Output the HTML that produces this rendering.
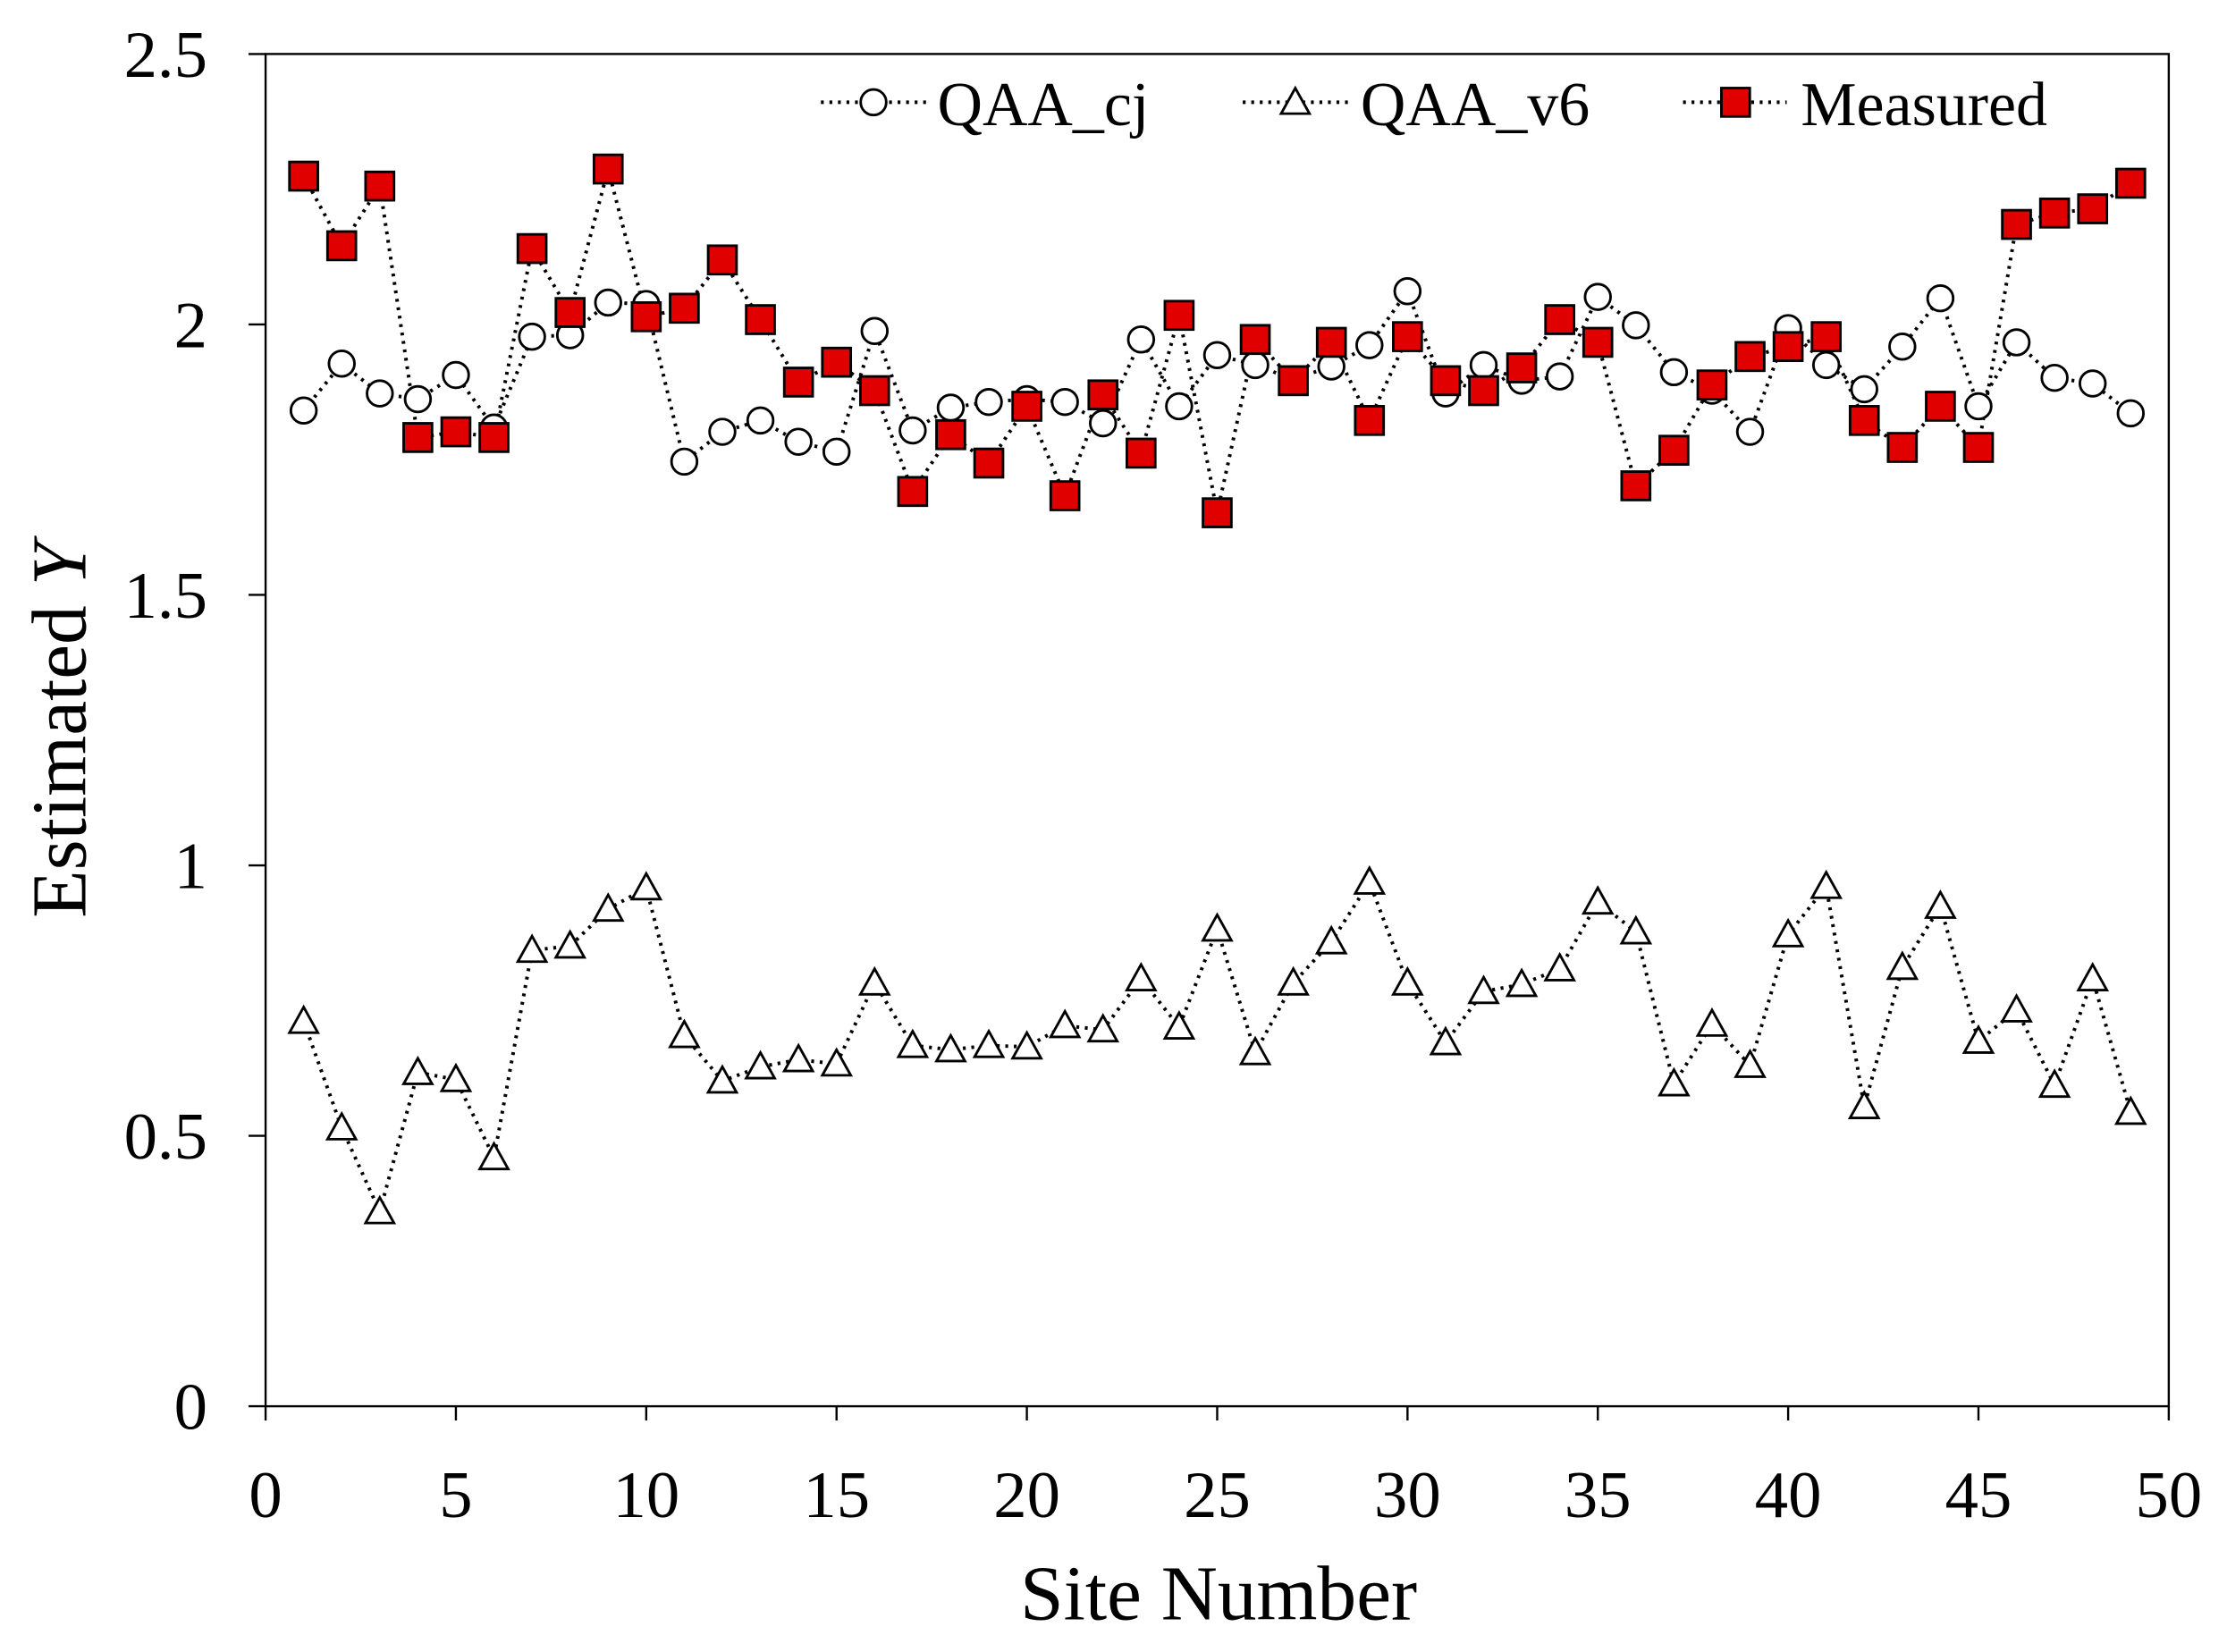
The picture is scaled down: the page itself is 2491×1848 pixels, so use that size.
<!DOCTYPE html>
<html><head><meta charset="utf-8"><style>
html,body{margin:0;padding:0;background:#fff;}
svg{display:block;}
text{font-family:"Liberation Serif",serif;fill:#000;}
</style></head><body>
<svg id="c" width="2491" height="1848" viewBox="0 0 1568 1163" preserveAspectRatio="none" xmlns="http://www.w3.org/2000/svg">
<rect x="0" y="0" width="1568" height="1163" fill="#fff"/>
<rect x="187" y="38" width="1340" height="952" fill="none" stroke="#000" stroke-width="1.5"/>
<g id="ticks" stroke="#000" stroke-width="1.5"></g>
<g id="labels" font-size="47"></g>
<g id="series"></g>
<text x="858" y="1140" font-size="55" text-anchor="middle">Site Number</text>
<text transform="translate(60,514) rotate(-90)" font-size="55" text-anchor="middle">Estimated <tspan font-style="italic">Y</tspan></text>
<g font-size="44">
<line x1="578" y1="72" x2="652" y2="72" stroke="#000" stroke-width="2.5" stroke-dasharray="2,4"/>
<circle cx="615" cy="72" r="9" fill="#fff" stroke="#000" stroke-width="1.8"/>
<text x="660" y="88">QAA_cj</text>
<line x1="875" y1="72" x2="950" y2="72" stroke="#000" stroke-width="2.5" stroke-dasharray="2,4"/>
<polygon points="912,62 922,80 902,80" fill="#fff" stroke="#000" stroke-width="1.8"/>
<text x="958" y="88">QAA_v6</text>
<line x1="1185" y1="72" x2="1258" y2="72" stroke="#000" stroke-width="2.5" stroke-dasharray="2,4"/>
<rect x="1212" y="62" width="20" height="20" fill="#e00000" stroke="#000" stroke-width="1.8"/>
<text x="1268" y="88">Measured</text>
</g>
</svg>
<script>
var NS="http://www.w3.org/2000/svg";
function el(t,a,p){var e=document.createElementNS(NS,t);for(var k in a)e.setAttribute(k,a[k]);p.appendChild(e);return e;}
var tk=document.getElementById('ticks'),lb=document.getElementById('labels'),sr=document.getElementById('series');
for(var i=0;i<=10;i++){var x=187+26.8*i*5;el('line',{x1:x,y1:990,x2:x,y2:1000},tk);var t=el('text',{x:x,y:1068,'text-anchor':'middle'},lb);t.textContent=i*5;}
var yl=['0','0.5','1','1.5','2','2.5'];
for(var j=0;j<=5;j++){var y=990-190.4*j;el('line',{x1:175,y1:y,x2:187,y2:y},tk);var t=el('text',{x:146,y:y+16,'text-anchor':'end'},lb);t.textContent=yl[j];}
var M=[124,173,131,308,304,308,175,220,119,223,217,183,225,269,255,275,346,306,326,286,349,278,319,222,361,239,268,241,296,237,268,275,259,225,241,342,317,271,251,244,237,296,315,286,315,158,150,147,129];
var C=[289,256,277,281,264,301,237,236,213,214,325,304,296,311,318,233,303,287,283,281,283,298,239,286,250,257,267,258,243,205,277,257,268,265,209,229,262,275,304,231,257,274,244,210,286,241,266,270,291];
var V=[719,794,853,755,760,815,669,666,640,625,729,761,751,746,749,692,736,739,736,737,722,725,689,723,654,741,692,663,621,692,734,698,693,682,635,656,763,721,750,658,624,779,681,638,733,711,764,689,783];
function X(i){return 187+26.8*(i+1);}
function line(d){var p=d.map(function(y,i){return X(i)+','+y}).join(' ');el('polyline',{points:p,fill:'none',stroke:'#000','stroke-width':2.5,'stroke-dasharray':'2,4'},sr);}
line(C);line(V);line(M);
C.forEach(function(y,i){el('circle',{cx:X(i),cy:y,r:9,fill:'#fff',stroke:'#000','stroke-width':1.8},sr);});
V.forEach(function(y,i){var x=X(i);el('polygon',{points:x+','+(y-10)+' '+(x+10)+','+(y+8)+' '+(x-10)+','+(y+8),fill:'#fff',stroke:'#000','stroke-width':1.8},sr);});
M.forEach(function(y,i){el('rect',{x:X(i)-10,y:y-10,width:20,height:20,fill:'#e00000',stroke:'#000','stroke-width':1.8},sr);});
</script>
</body></html>
